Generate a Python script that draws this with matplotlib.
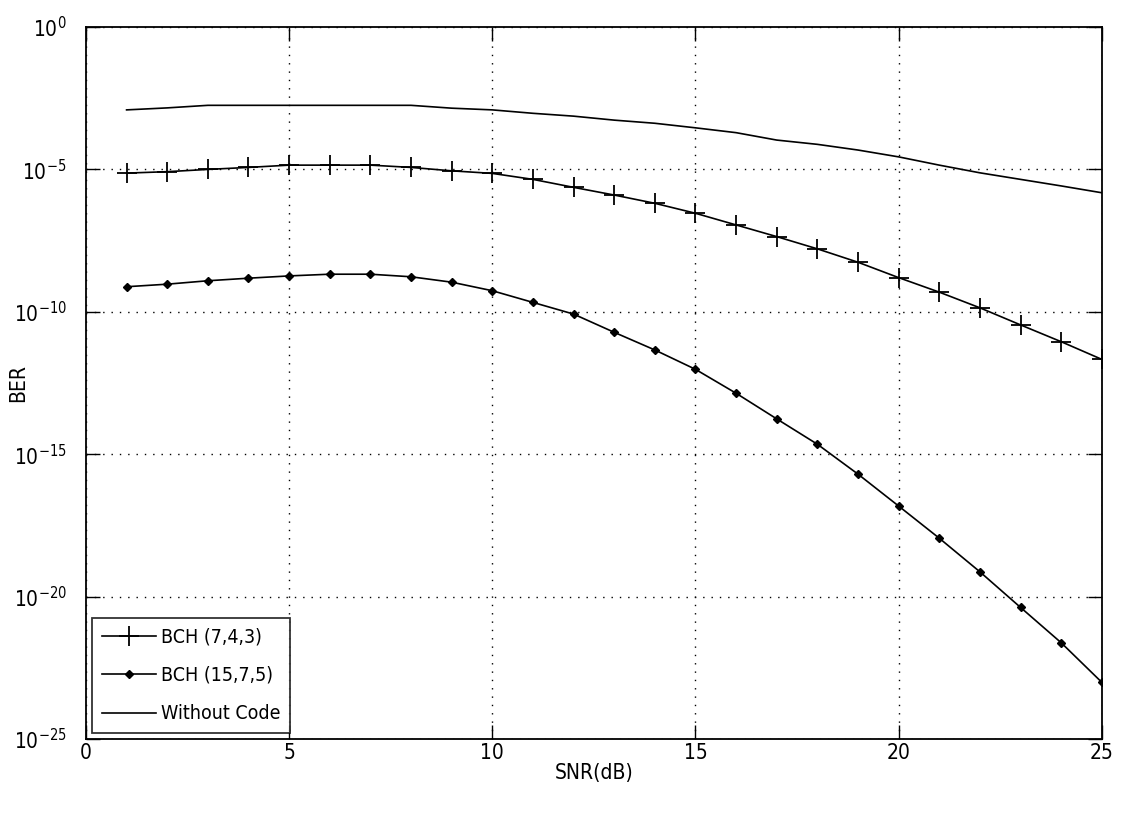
import matplotlib
matplotlib.use("Agg")
import matplotlib.pyplot as plt
import numpy as np

# SNR in dB
snr = [1, 2, 3, 4, 5, 6, 7, 8, 9, 10, 11, 12, 13, 14, 15,
       16, 17, 18, 19, 20, 21, 22, 23, 24, 25]

# BER exponents (BER = 10**-value)
bch743_exp = [5.13, 5.08, 5.00, 4.93, 4.85, 4.85, 4.85, 4.93, 5.05, 5.14,
              5.35, 5.63, 5.90, 6.19, 6.54, 6.95, 7.36, 7.79, 8.26, 8.80,
              9.31, 9.86, 10.46, 11.05, 11.67]
bch1575_exp = [9.12, 9.03, 8.91, 8.82, 8.74, 8.68, 8.68, 8.77, 8.96, 9.26,
               9.67, 10.08, 10.72, 11.34, 12.02, 12.86, 13.76, 14.65, 15.70, 16.82,
               17.95, 19.13, 20.38, 21.62, 23.01]
uncoded_exp = [2.91, 2.84, 2.75, 2.75, 2.75, 2.75, 2.75, 2.75, 2.85, 2.91,
               3.03, 3.13, 3.27, 3.38, 3.54, 3.71, 3.97, 4.12, 4.32, 4.56,
               4.85, 5.12, 5.35, 5.58, 5.82]

# narrow, tall-looking text like the old matlab export
plt.rcParams['font.family'] = ['DejaVu Sans']
plt.rcParams['font.stretch'] = 'condensed'
plt.rcParams['mathtext.fontset'] = 'custom'
plt.rcParams['mathtext.rm'] = 'DejaVu Sans:stretch=condensed'

fig = plt.figure(figsize=(11.22, 8.21), dpi=100)
ax = fig.add_axes([0.0766, 0.0999, 0.9054, 0.8672])

x = np.array(snr)
ax.semilogy(x, 10.0 ** -np.array(bch743_exp), color='k', lw=1.2, marker='+',
            ms=15, mew=1.3, label='BCH (7,4,3)')
ax.semilogy(x, 10.0 ** -np.array(bch1575_exp), color='k', lw=1.2, marker='D',
            ms=4.5, label='BCH (15,7,5)')
ax.semilogy(x, 10.0 ** -np.array(uncoded_exp), color='k', lw=1.2,
            label='Without Code')

ax.set_xlim(0, 25)
ax.set_ylim(1e-25, 1e0)
ax.set_xticks([0, 5, 10, 15, 20, 25])
ax.set_yticks([10.0 ** -k for k in range(25, -1, -5)])
ax.set_yticklabels([r'$10^{-%d}$' % k if k else r'$10^{0}$'
                    for k in range(25, -1, -5)])
ax.minorticks_off()
ax.tick_params(direction='in', length=10, width=1, top=True, right=True,
               labelsize=15)
ax.tick_params(axis='x', pad=3)
ax.tick_params(axis='y', pad=14)
ax.grid(True, color='k', linestyle=(0, (1, 5)), lw=1)
for s in ax.spines.values():
    s.set_linewidth(1.3)

ax.set_xlabel('SNR(dB)', fontsize=15, labelpad=0)
ax.set_ylabel('BER', fontsize=15)
ax.yaxis.set_label_coords(-0.057, 0.5)

leg = ax.legend(loc='lower left', fontsize=14, frameon=True, fancybox=False,
                edgecolor='k', borderaxespad=0.3, handlelength=2.8,
                labelspacing=1.0, handletextpad=0.25, borderpad=0.5)
leg.get_frame().set_linewidth(1.3)

fig.savefig('out.png', dpi=100)
